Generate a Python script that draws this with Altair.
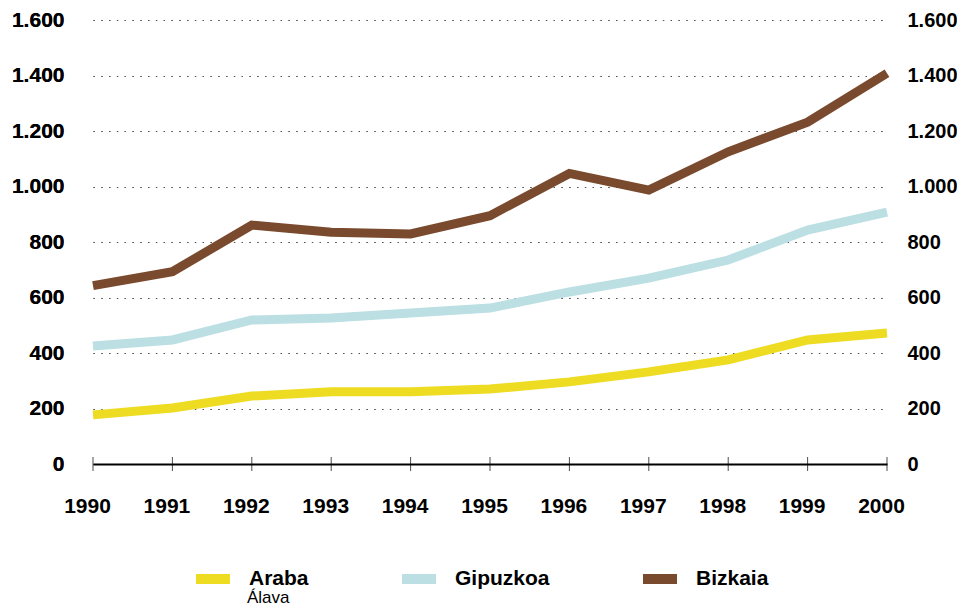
import altair as alt
import pandas as pd

years = [1990, 1991, 1992, 1993, 1994, 1995, 1996, 1997, 1998, 1999, 2000]
series = ["Araba", "Gipuzkoa", "Bizkaia"]
araba = [177, 202, 245, 260, 260, 270, 296, 332, 375, 447, 472]
gipuzkoa = [425, 447, 519, 526, 544, 562, 620, 670, 735, 843, 908]
bizkaia = [643, 693, 861, 835, 829, 895, 1047, 987, 1125, 1232, 1408]
colors = ["#EEDC22", "#BBDFE2", "#7A4A2E"]
subtitle = ["Álava"]
y_ticks = [0, 200, 400, 600, 800, 1000, 1200, 1400, 1600]

FONT = "Liberation Sans"

rows = []
for name, vals in zip(series, [araba, gipuzkoa, bizkaia]):
    for yr, v in zip(years, vals):
        rows.append({"year": yr, "series": name, "value": v})
df = pd.DataFrame(rows)
ticks_df = pd.DataFrame({"year": years, "value": [0] * len(years)})
sub_df = pd.DataFrame({"year": [years[0]], "value": [0], "sub": subtitle})

label_expr = "replace(format(datum.value, ','), ',', '.')"

x_enc = alt.X(
    "year:O",
    scale=alt.Scale(type="point", padding=0),
    axis=alt.Axis(
        title=None, labelAngle=0, domain=True, domainColor="black", domainWidth=2,
        ticks=False, grid=False, labelFontSize=21, labelFontWeight="bold",
        labelColor="black", labelPadding=31, labelOffset=-6, labelFont=FONT,
    ),
)
y_scale = alt.Scale(domain=[0, 1600], nice=False)
left_axis = alt.Axis(
    orient="left", values=y_ticks, labelExpr=label_expr, grid=True,
    gridDash=[1.3, 6.5], gridColor="#555555", gridWidth=1, domain=False, ticks=False,
    labelFontSize=21, labelFontWeight="bold", labelColor="black", labelPadding=29,
    title=None, labelFont=FONT,
)
right_axis = alt.Axis(
    orient="right", values=y_ticks, labelExpr=label_expr, grid=False,
    domain=False, ticks=False, labelFontSize=20, labelFontWeight="bold",
    labelColor="black", labelPadding=20, title=None, labelFont=FONT,
)

lines = alt.Chart(df).mark_line(strokeWidth=9, strokeCap="butt").encode(
    x=x_enc,
    y=alt.Y("value:Q", scale=y_scale, axis=left_axis),
    color=alt.Color(
        "series:N",
        scale=alt.Scale(domain=series, range=colors),
        legend=alt.Legend(
            title=None, orient="none", legendX=98, legendY=537,
            direction="horizontal", symbolType="stroke", symbolSize=1156,
            symbolStrokeWidth=10, labelFont=FONT, labelFontWeight="bold",
            labelFontSize=21, labelColor="black", labelOffset=14,
            columnPadding=73, padding=0, gridAlign="none",
        ),
    ),
)

ticks = alt.Chart(ticks_df).mark_tick(
    orient="vertical", size=14, thickness=1, color="black"
).encode(
    x=x_enc,
    y=alt.Y("value:Q", scale=y_scale, axis=left_axis),
)

sub = alt.Chart(sub_df).mark_point(opacity=0).encode(
    x=x_enc,
    y=alt.Y("value:Q", scale=y_scale, axis=right_axis),
    shape=alt.Shape(
        "sub:N",
        legend=alt.Legend(
            title=None, orient="none", legendX=137, legendY=569,
            symbolOpacity=0, symbolSize=1, labelFont=FONT,
            labelFontWeight="normal", labelFontSize=17, labelColor="black",
            labelOffset=0, padding=0,
        ),
    ),
)

chart = (
    alt.layer(ticks, lines, sub)
    .resolve_axis(y="independent")
    .properties(
        width=794, height=444,
        autosize=alt.AutoSizeParams(type="none"),
        padding={"left": 85, "top": 12, "right": 70, "bottom": 141},
    )
    .configure_view(stroke=None)
)

chart.save("out.html", embed_options={"renderer": "svg", "actions": False})
